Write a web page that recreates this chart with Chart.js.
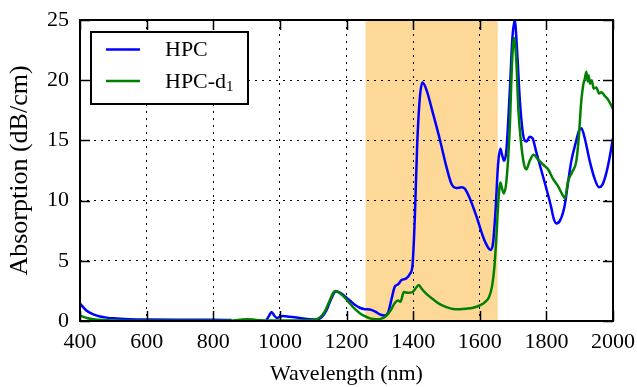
<!DOCTYPE html>
<html>
<head>
<meta charset="utf-8">
<script src="https://cdn.jsdelivr.net/npm/chart.js@4.4.0/dist/chart.umd.min.js"></script>
<style>
  body { margin: 0; background: #fff; }
  canvas { display: block; }
</style>
</head>
<body>
<canvas id="myChart" width="637" height="387"></canvas>
<script>
// HPC absorption spectrum
const hpcWave = [400, 420, 440, 460, 480, 500, 550, 600, 700, 800, 855, 905, 960, 968, 975, 983, 991, 1000, 1008, 1030, 1060, 1090, 1110,
  1125, 1140, 1155, 1168, 1180, 1195, 1210, 1225, 1240, 1255, 1270, 1285, 1300, 1315, 1325, 1335, 1345, 1355, 1365, 1380, 1390,
  1398, 1405, 1412, 1420, 1428, 1440, 1460, 1480, 1500, 1515, 1530, 1545, 1555, 1570, 1590, 1610, 1625, 1632, 1640, 1647, 1655,
  1662, 1668, 1673, 1680, 1690, 1698, 1705, 1712, 1720, 1730, 1740, 1750, 1758, 1770, 1785, 1800, 1814, 1822, 1830, 1842, 1855,
  1865, 1875, 1888, 1898, 1905, 1915, 1930, 1945, 1958, 1968, 1980, 1990, 2000];
const hpcAbs = [1.45, 0.85, 0.55, 0.38, 0.28, 0.22, 0.15, 0.12, 0.1, 0.1, 0.08, null, 0.1, 0.45, 0.75, 0.45, 0.25, 0.35, 0.42, 0.35, 0.25, 0.15, 0.12,
  0.3, 0.9, 1.9, 2.45, 2.35, 2.05, 1.7, 1.35, 1.1, 0.98, 0.95, 0.8, 0.55, 0.45, 0.7, 1.8, 2.85, 3.05, 3.4, 3.55, 3.9,
  4.6, 8.5, 14.5, 18.5, 19.8, 19.2, 17.2, 15.1, 12.8, 11.4, 11.05, 11.1, 11.0, 10.2, 8.7, 7.0, 6.1, 5.9, 6.5, 9.0, 13.0,
  14.3, 13.7, 13.3, 14.2, 19, 23.5, 25, 22.5, 18.5, 15.5, 14.9, 15.3, 15.2, 14.0, 12.5, 11.0, 9.5, 8.5, 8.1, 8.4, 9.6,
  11.5, 13.3, 14.8, 15.8, 16.0, 15.2, 13.3, 11.8, 11.1, 11.3, 12.3, 13.6, 15.2];

// HPC-d1 absorption spectrum
const hpcD1Wave = [400, 420, 440, 470, 500, 600, 700, 800, 860, 880, 900, 920, 940, 960, 1000, 1050, 1100, 1120, 1135, 1148, 1160, 1168,
  1180, 1195, 1210, 1225, 1240, 1255, 1270, 1290, 1305, 1320, 1335, 1345, 1355, 1362, 1372, 1385, 1398, 1410, 1417, 1425, 1440,
  1460, 1480, 1500, 1520, 1540, 1560, 1580, 1600, 1615, 1628, 1637, 1644, 1650, 1656, 1662, 1667, 1672, 1680, 1690, 1697, 1703,
  1710, 1716, 1724, 1733, 1740, 1750, 1762, 1775, 1790, 1805, 1820, 1835, 1848, 1856, 1865, 1878, 1890, 1898, 1904, 1910, 1916,
  1920, 1924, 1927, 1931, 1936, 1942, 1950, 1958, 1966, 1975, 1985, 1993, 2000];
const hpcD1Abs = [0.45, 0.25, 0.15, 0.08, 0.05, 0.03, 0.03, 0.03, 0.05, 0.1, 0.15, 0.12, 0.06, 0.05, 0.05, 0.05, 0.08, 0.3, 0.8, 1.6, 2.35, 2.5,
  2.3, 1.95, 1.45, 1.0, 0.65, 0.4, 0.22, 0.15, 0.2, 0.45, 1.0, 1.5, 1.7, 1.6, 2.4, 2.35, 2.4, 2.8, 3.0, 2.7, 2.25,
  1.8, 1.4, 1.15, 1.0, 0.98, 1.02, 1.1, 1.3, 1.55, 2.0, 2.9, 4.5, 7.0, 10.0, 11.5, 11.0, 10.6, 11.6, 16, 21.5, 23.5,
  21.5, 17.5, 14.8, 13.0, 12.6, 13.3, 13.8, 13.4, 13.0, 12.6, 11.8, 11.2, 10.5, 10.2, 11.6, 12.4, 13.3, 15.5, 18.0, 19.5, 20.2,
  20.7, 19.9, 20.4, 19.7, 20.0, 19.3, 19.4, 18.9, 19.0, 18.7, 18.4, 18.0, 17.6];

const seriesNames = ["HPC", "HPC-d₁"];
const xTicks = [400, 600, 800, 1000, 1200, 1400, 1600, 1800, 2000];
const yTicks = [0, 5, 10, 15, 20, 25];
const bandStart = 1257;
const bandEnd = 1654;

window.onload = () => {

  const serif = "'Liberation Serif', 'Times New Roman', serif";
  Chart.defaults.font.family = serif;
  Chart.defaults.color = "#000";

  function points(xs, ys) {
    return xs.map((x, i) => ({ x: x, y: ys[i] }));
  }

  // shaded band, inward ticks, frame and legend
  const decor = {
    id: "decor",
    beforeDraw(chart) {
      const ctx = chart.ctx, a = chart.chartArea, sx = chart.scales.x;
      const x1 = sx.getPixelForValue(bandStart);
      const x2 = sx.getPixelForValue(bandEnd);
      ctx.save();
      ctx.fillStyle = "#fdd897";
      ctx.fillRect(x1, a.top, x2 - x1, a.bottom - a.top);
      ctx.restore();
    },
    afterDraw(chart) {
      const ctx = chart.ctx, a = chart.chartArea;
      const sx = chart.scales.x, sy = chart.scales.y;
      const len = 10;
      ctx.save();
      ctx.strokeStyle = "#000";
      ctx.lineWidth = 1.5;
      ctx.beginPath();
      xTicks.forEach(v => {
        const px = Math.round(sx.getPixelForValue(v)) + 0.5;
        ctx.moveTo(px, a.bottom); ctx.lineTo(px, a.bottom - len);
        ctx.moveTo(px, a.top); ctx.lineTo(px, a.top + len);
      });
      yTicks.forEach(v => {
        const py = Math.round(sy.getPixelForValue(v)) + 0.5;
        ctx.moveTo(a.left, py); ctx.lineTo(a.left + len, py);
        ctx.moveTo(a.right, py); ctx.lineTo(a.right - len, py);
      });
      ctx.stroke();

      ctx.lineWidth = 2;
      ctx.strokeRect(a.left, a.top, a.right - a.left, a.bottom - a.top);

      // legend
      const bx = 91, by = 32, bw = 157, bh = 72;
      ctx.fillStyle = "#fff";
      ctx.fillRect(bx, by, bw, bh);
      ctx.strokeRect(bx, by, bw, bh);
      const rows = [49.5, 81];
      chart.data.datasets.forEach((ds, i) => {
        ctx.strokeStyle = ds.borderColor;
        ctx.lineWidth = 2.5;
        ctx.beginPath();
        ctx.moveTo(106, rows[i]);
        ctx.lineTo(140, rows[i]);
        ctx.stroke();
        ctx.fillStyle = "#000";
        ctx.textBaseline = "middle";
        ctx.textAlign = "left";
        ctx.font = "22px " + serif;
        const parts = ds.label.split("₁");
        ctx.fillText(parts[0], 165, rows[i] + 1);
        if (parts.length > 1) {
          const w = ctx.measureText(parts[0]).width;
          ctx.font = "15px " + serif;
          ctx.fillText("1", 165 + w, rows[i] + 6);
        }
      });
      ctx.restore();
    }
  };

  const ctx = document.getElementById("myChart").getContext("2d");

  new Chart(ctx, {
    type: "line",
    data: {
      datasets: [{
        label: seriesNames[0],
        data: points(hpcWave, hpcAbs),
        borderColor: "#0000ff",
        borderWidth: 2.5,
        pointRadius: 0,
        cubicInterpolationMode: "monotone",
        fill: false,
        order: 2
      }, {
        label: seriesNames[1],
        data: points(hpcD1Wave, hpcD1Abs),
        borderColor: "#008000",
        borderWidth: 2.5,
        pointRadius: 0,
        cubicInterpolationMode: "monotone",
        fill: false,
        order: 1
      }]
    },
    options: {
      responsive: false,
      animation: false,
      layout: { padding: { top: 20, right: 24, left: 0, bottom: 0 } },
      plugins: {
        legend: { display: false },
        tooltip: { enabled: false }
      },
      scales: {
        x: {
          type: "linear",
          min: 400,
          max: 2000,
          afterBuildTicks: s => { s.ticks = xTicks.map(v => ({ value: v })); },
          afterFit: s => { s.height = 66; s.paddingLeft = 0; s.paddingRight = 0; },
          grid: { color: "#000", lineWidth: 1, drawTicks: false },
          border: { display: false, dash: [2, 5] },
          ticks: {
            color: "#000",
            padding: 8,
            maxRotation: 0,
            font: { family: serif, size: 22 },
            callback: v => String(v)
          },
          title: {
            display: true,
            text: "Wavelength (nm)",
            color: "#000",
            padding: { top: 0, bottom: 0 },
            font: { family: serif, size: 22 }
          }
        },
        y: {
          min: 0,
          max: 25,
          afterBuildTicks: s => { s.ticks = yTicks.map(v => ({ value: v })); },
          afterFit: s => { s.width = 80; s.paddingTop = 0; s.paddingBottom = 0; },
          grid: { color: "#000", lineWidth: 1, drawTicks: false },
          border: { display: false, dash: [2, 5] },
          ticks: {
            color: "#000",
            padding: 11,
            font: { family: serif, size: 22 },
            callback: v => String(v)
          },
          title: {
            display: true,
            text: "Absorption (dB/cm)",
            color: "#000",
            padding: { top: 5, bottom: 0 },
            font: { family: serif, size: 26 }
          }
        }
      }
    },
    plugins: [decor]
  });

};
</script>
</body>
</html>
